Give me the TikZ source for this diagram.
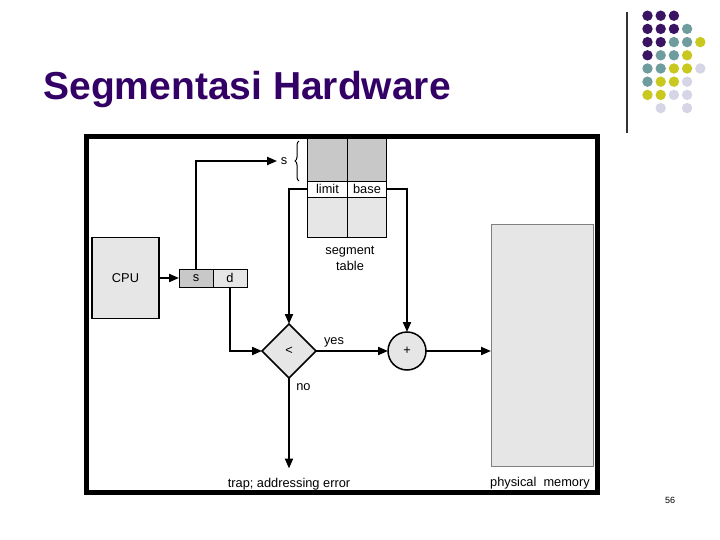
\documentclass[tikz,border=0pt]{standalone}
\usepackage{fontspec}
\setmainfont{Liberation Sans}
\usetikzlibrary{shapes.geometric}
\usetikzlibrary{arrows.meta}
\usetikzlibrary{decorations.pathreplacing}
\usetikzlibrary{positioning}
\definecolor{ttlpurple}{HTML}{330066}
\definecolor{dotP}{HTML}{3B1363}
\definecolor{dotT}{HTML}{6F9C9C}
\definecolor{dotY}{HTML}{C8C81E}
\definecolor{dotL}{HTML}{D5D5E5}
\definecolor{dotW}{HTML}{FFFFFF}
\definecolor{cellgray}{HTML}{C8C8C8}
\definecolor{boxgray}{HTML}{E6E6E6}

\begin{document}
\begin{tikzpicture}[x=1pt, y=-1pt, thick, font=\fontsize{12.8}{15}\selectfont,
    main/.style = {draw, fill=boxgray, line width=0.9pt, inner sep=0pt, outer sep=0pt},
    dark/.style = {main, fill=cellgray},
    arr/.style = {line width=2pt, -{Triangle[length=10pt, width=8pt]}}]
\useasboundingbox (0,0) rectangle (720,540);
% logo
\foreach \r/\row in {0/{P,P,P}, 1/{P,P,P,T}, 2/{P,P,T,T,Y}, 3/{P,T,T,Y}, 4/{T,T,Y,Y,L}, 5/{T,Y,Y,L}, 6/{Y,Y,L,L}, 7/{W,L,W,L}}
    \foreach \k [count=\c from 0] in \row
        \fill[dot\k] (647.5+13.2*\c, 15.7+13.2*\r) circle (5.2);
\draw[line width=1.3pt, black!80] (627,12) -- (627,133);
\node[anchor=base west, inner sep=0pt, text=ttlpurple, font=\fontsize{39}{44}\bfseries\selectfont] (title) at (43,100) {Segmentasi Hardware};
% segment table
\node[dark, minimum width=40pt, minimum height=44pt, anchor=north west] (t1) at (307.5,137) {};
\node[dark, minimum width=39pt, minimum height=44pt] (t2) [right = 0pt of t1] {};
\node[main, fill=white, minimum width=40pt, minimum height=16pt] (lim) [below = 0pt of t1] {limit};
\node[main, fill=white, minimum width=39pt, minimum height=16pt] (bas) [below = 0pt of t2] {base};
\node[main, minimum width=40pt, minimum height=40pt] (t3) [below = 0pt of lim] {};
\node[main, minimum width=39pt, minimum height=40pt] (t4) [below = 0pt of bas] {};
\node[align=center, font=\fontsize{12.8}{16}\selectfont] (segtbl) at (350,258) {segment\\table};
% frame
\draw[line width=5pt] (86.5,136.5) rectangle (597.5,492);
% cpu and address
\node[main, line width=1.2pt, minimum width=67pt, minimum height=81pt] (cpu) at (125.5,278) {CPU};
\node[dark, minimum width=34pt, minimum height=18pt] (s) at (196,278) {s};
\node[main, minimum width=34pt, minimum height=18pt] (d) [right = 0pt of s] {d};
\node[main, diamond, aspect=1, minimum width=54pt, minimum height=54pt, line width=1.5pt] (lt) at (289,351) {<};
\node[main, circle, minimum size=38pt, line width=1.5pt] (plus) at (407,351) {+};
\node[main, draw=gray, minimum width=102pt, minimum height=242pt, anchor=north west] (mem) at (491,224) {};
\node (slbl) at (284,161) {s};
\node[anchor=north, inner ysep=9pt] (trap) at (289,468.5) {trap; addressing error};
\node (memlbl) at (540,483) {physical\ \ memory};
\node[font=\fontsize{9}{10}\selectfont] (pg) at (670,500) {56};
% connectors
\draw[arr] (cpu) -- (s);
\draw[arr] (s.north) |- (slbl.west);
\draw[decorate, decoration={brace, amplitude=4pt}, line width=1pt] (299,181) -- (299,141);
\draw[arr] (d.south) |- (lt.west);
\draw[arr] (lim.west) -| (lt.north);
\draw[arr] (bas.east) -| (plus.north);
\draw[arr] (lt.east) -- node[above, pos=0.25] (yes) {yes} (plus.west);
\draw[arr] (plus.east) -- (plus.east -| mem.west);
\draw[arr] (lt.south) -- node[right, pos=0.1, xshift=3pt] (no) {no} (trap.north);
\end{tikzpicture}
\end{document}
